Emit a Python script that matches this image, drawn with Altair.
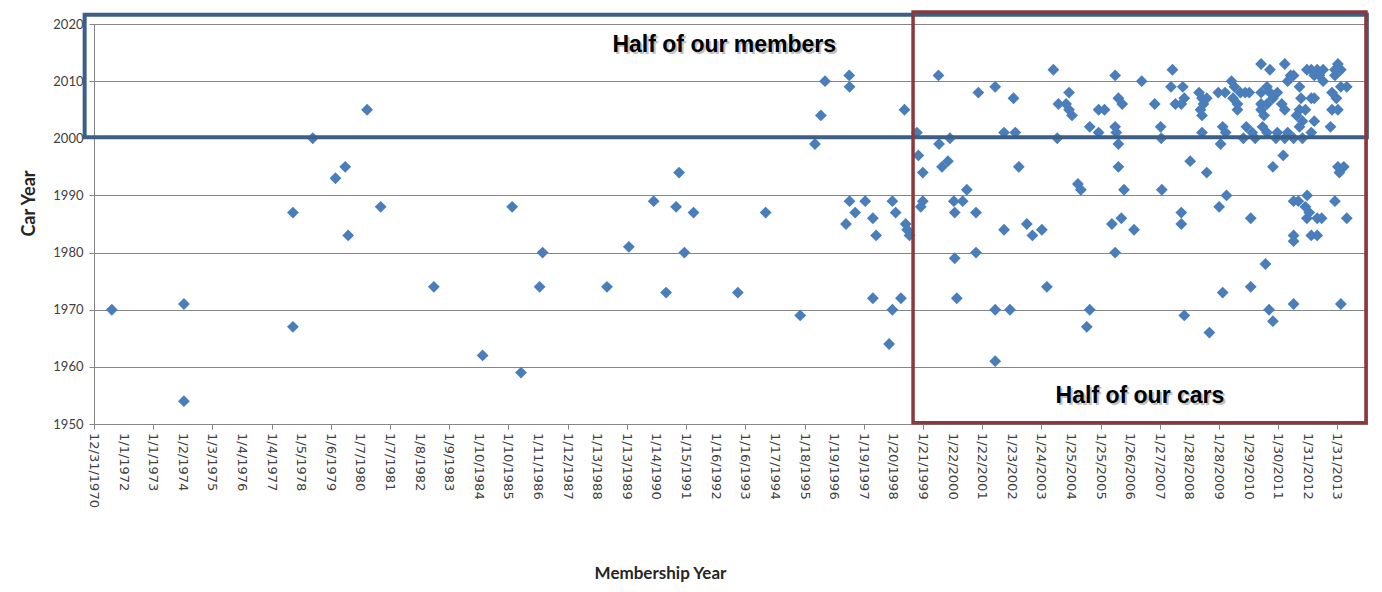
import altair as alt
import pandas as pd
from datetime import date, timedelta

# Membership year (decimal year) and car model year
member = [
    1971.6, 1974.04, 1974.04, 1977.73, 1977.73, 1978.4, 1979.17, 1979.5, 1979.6, 1980.24,
    1980.7, 1982.5, 1984.15, 1985.15, 1985.45, 1986.08, 1986.18, 1988.36, 1989.1, 1989.94,
    1990.36, 1990.7, 1990.8, 1990.98, 1991.29, 1992.79, 1993.73, 1994.9, 1995.4, 1995.6,
    1995.74, 1996.56, 1996.57, 1996.45, 1996.57, 1996.76, 1997.1, 1997.36, 1997.47, 1997.36,
    1998.02, 1997.91, 1998.31, 1998.02, 1998.13, 1998.43, 1998.47, 1998.52, 1998.6, 1998.85,
    1998.9, 1999.05, 1998.98, 1999.05, 1999.58, 1999.6, 1999.97, 1999.7, 1999.9, 2000.54,
    2000.1, 2000.4, 2000.13, 2000.85, 2000.13, 2000.85, 2000.2, 2000.93, 2001.5, 2001.5,
    2001.5, 2001.8, 2002.18, 2002.12, 2002.3, 2001.8, 2002.0, 2002.57, 2002.76, 2003.08,
    2003.25, 2003.47, 2003.64, 2003.6, 2004.0, 2003.9, 2004.0, 2004.1, 2004.3, 2004.4,
    2004.7, 2004.6, 2004.7, 2005.0, 2005.0, 2005.2, 2005.56, 2005.67, 2005.8, 2005.56,
    2005.6, 2005.67, 2005.67, 2005.86, 2005.45, 2005.77, 2006.2, 2005.56, 2006.46, 2006.9,
    2007.14, 2007.5, 2007.45, 2007.85, 2007.9, 2007.6, 2007.8, 2007.1, 2007.12, 2008.1,
    2007.8, 2007.8, 2007.9, 2008.5, 2008.55, 2008.5, 2008.66, 2008.66, 2008.75, 2009.13,
    2009.33, 2009.08, 2010.15, 2009.2, 2010.15, 2010.65, 2010.77, 2010.9, 2011.6, 2013.2,
    2010.9, 2011.25, 2011.0, 2011.6, 2011.9, 2011.6, 2011.76, 2012.06, 2012.0, 2012.13,
    2012.05, 2012.4, 2012.55, 2013.0, 2013.4, 2011.6, 2011.6, 2012.2, 2012.4, 2013.1,
    2013.15, 2013.3, 2010.5, 2011.3, 2013.1, 2010.8, 2011.6, 2011.5, 2012.3, 2012.47,
    2012.6, 2013.0, 2013.0, 2011.4, 2013.4, 2009.5, 2009.05, 2009.28, 2009.6, 2009.8,
    2009.96, 2010.1, 2009.55, 2009.7, 2010.5, 2010.7, 2010.8, 2010.9, 2010.7, 2010.5,
    2009.7, 2010.5, 2010.6, 2012.05, 2012.2, 2012.4, 2013.2, 2012.6, 2011.05, 2011.2,
    2011.3, 2011.8, 2011.85, 2011.8, 2012.0, 2011.7, 2011.9, 2012.2, 2012.3, 2012.9,
    2013.05, 2012.9, 2013.1, 2013.2, 2012.3, 2012.85, 2011.8, 2012.2, 2011.05, 2011.3,
    2008.5, 2009.2, 2009.3, 2010.0, 2010.2, 2010.55, 2010.7, 2011.4, 2009.9, 2010.3,
    2008.4, 2008.45,
]
car = [
    1970, 1971, 1954, 1987, 1967, 2000, 1993, 1995, 1983, 2005,
    1988, 1974, 1962, 1988, 1959, 1974, 1980, 1974, 1981, 1989,
    1973, 1988, 1994, 1980, 1987, 1973, 1987, 1969, 1999, 2004,
    2010, 2011, 2009, 1985, 1989, 1987, 1989, 1986, 1983, 1972,
    1970, 1964, 1972, 1989, 1987, 2005, 1985, 1984, 1983, 2001,
    1997, 1994, 1988, 1989, 2011, 1999, 2000, 1995, 1996, 1991,
    1989, 1989, 1987, 1987, 1979, 1980, 1972, 2008, 2009, 1970,
    1961, 2001, 2001, 2007, 1995, 1984, 1970, 1985, 1983, 1984,
    1974, 2012, 2006, 2000, 2008, 2006, 2005, 2004, 1992, 1991,
    1970, 1967, 2002, 2001, 2005, 2005, 2011, 2007, 2006, 2002,
    2001, 1999, 1995, 1991, 1985, 1986, 1984, 1980, 2010, 2006,
    1991, 2012, 2009, 2009, 2007, 2006, 2006, 2002, 2000, 1996,
    1987, 1985, 1969, 2007, 2006, 2004, 2007, 1994, 1966, 1999,
    1990, 1988, 1986, 1973, 1974, 1978, 1970, 1968, 1971, 1971,
    1995, 1997, 2000, 2000, 2000, 1989, 1989, 1990, 1988, 1987,
    1986, 1986, 1986, 1989, 1986, 1983, 1982, 1983, 1983, 1995,
    1994, 1995, 2013, 2013, 2013, 2012, 2011, 2011, 2011, 2011,
    2012, 2012, 2011, 2010, 2009, 2010, 2008, 2008, 2009, 2008,
    2008, 2008, 2007, 2006, 2008, 2009, 2008, 2007, 2006, 2006,
    2005, 2005, 2004, 2012, 2012, 2012, 2012, 2010, 2008, 2006,
    2005, 2009, 2007, 2005, 2005, 2004, 2003, 2007, 2007, 2008,
    2007, 2005, 2005, 2009, 2003, 2002, 2002, 2001, 2001, 2000,
    2001, 2002, 2001, 2002, 2001, 2002, 2001, 2001, 2000, 2000,
    2008, 2005,
]
assert len(member) == len(car)

# Excel-style date axis: ticks every 366 days from 12/31/1970
AXIS_START = date(1970, 12, 31)
N_TICKS = 43
TICK_STEP_DAYS = 366
y_ticks = [1950, 1960, 1970, 1980, 1990, 2000, 2010, 2020]

# Annotation boxes (membership decimal year, car year)
box_label = ["members", "cars"]
box_m1 = [1970.68, 1998.72]
box_m2 = [2014.08, 2014.05]
box_c1 = [2000.2, 1950.2]
box_c2 = [2021.6, 2022.1]
box_color = ["#3C5F87", "#8B3A3C"]
box_width = [4, 3.5]

note_text = ["Half of our members", "Half of our cars"]
note_m = [1992.33, 2006.4]
note_c = [2016.3, 1954.9]

def to_ms(d):
    return (d - date(1970, 1, 1)).days * 86400000

tick_dates = [AXIS_START + timedelta(days=TICK_STEP_DAYS * k) for k in range(N_TICKS)]
tick_ms = [to_ms(d) for d in tick_dates]
end_ms = to_ms(AXIS_START + timedelta(days=TICK_STEP_DAYS * N_TICKS))

MS_EXPR = "(datum.{f} - 1970) * 365.25 * 86400000"

df = pd.DataFrame({"member": member, "car": car})
boxes = pd.DataFrame({"label": box_label, "m1": box_m1, "m2": box_m2,
                      "c1": box_c1, "c2": box_c2, "col": box_color, "sw": box_width})
notes = pd.DataFrame({"text": note_text, "m": note_m, "c": note_c})
ticks_df = pd.DataFrame({"t": tick_ms})

x_scale = alt.Scale(domain=[tick_ms[0], end_ms], nice=False, zero=False)
y_scale = alt.Scale(domain=[1950, 2020], nice=False, zero=False)

x_axis = alt.Axis(
    values=tick_ms, labels=False,
    grid=False, domainColor="#868686", tickColor="#868686", tickSize=5,
    title="Membership Year", titleFont="Lato", titleFontSize=17, titleFontWeight="bold",
    titleColor="#262626", titleX=566, titleY=141, titleAlign="center", titleBaseline="top",
)
y_axis = alt.Axis(
    values=y_ticks, format="d", grid=True, gridColor="#868686", gridWidth=1,
    labelFont="Lato", labelFontSize=13, labelColor="#404040", labelPadding=6,
    domainColor="#868686", tickColor="#868686", tickSize=5,
    title="Car Year", titleFont="Lato", titleFontSize=18, titleFontWeight="bold",
    titleColor="#262626", titleX=-65, titleY=179, titleAngle=270,
    titleAlign="center", titleBaseline="middle",
)

points = alt.Chart(df).transform_calculate(
    t=MS_EXPR.format(f="member")
).mark_point(shape="diamond", filled=True, size=140, color="#4A7EBB", opacity=1).encode(
    x=alt.X("t:Q", scale=x_scale, axis=x_axis),
    y=alt.Y("car:Q", scale=y_scale, axis=y_axis),
)

# x tick labels (rotated, one per 366-day tick)
tick_labels = alt.Chart(ticks_df).transform_calculate(
    label="utcFormat(datum.t, '%-m/%-d/%Y')"
).mark_text(angle=90, align="left", baseline="middle", dx=9,
            font="DejaVu Sans", fontSize=13, color="#404040", clip=False).encode(
    x="t:Q", y=alt.datum(1950), text="label:N"
)

rects = alt.Chart(boxes).transform_calculate(
    t1=MS_EXPR.format(f="m1"), t2=MS_EXPR.format(f="m2")
).mark_rect(filled=False, clip=False).encode(
    x=alt.X("t1:Q"), x2="t2:Q",
    y=alt.Y("c1:Q"), y2="c2:Q",
    stroke=alt.Stroke("col:N", scale=None, legend=None),
    strokeWidth=alt.StrokeWidth("sw:Q", scale=None, legend=None),
)

shadow = alt.Chart(notes).transform_calculate(
    t=MS_EXPR.format(f="m")
).mark_text(font="Liberation Sans", fontSize=23, fontWeight="bold", color="#9a9a9a",
            opacity=0.6, dx=2, dy=2, clip=False).encode(
    x="t:Q", y="c:Q", text="text:N"
)
labels = alt.Chart(notes).transform_calculate(
    t=MS_EXPR.format(f="m")
).mark_text(font="Liberation Sans", fontSize=23, fontWeight="bold", color="#000000",
            clip=False).encode(
    x="t:Q", y="c:Q", text="text:N"
)

chart = alt.layer(points, tick_labels, rects, shadow, labels).properties(
    width=1273, height=400,
    padding={"left": 86, "top": 16, "right": 7, "bottom": 160},
    autosize=alt.AutoSizeParams(type="none"),
    background="#ffffff",
).configure_view(stroke="#868686", strokeWidth=1)

chart.save("out.html", embed_options={"renderer": "svg", "actions": False})
